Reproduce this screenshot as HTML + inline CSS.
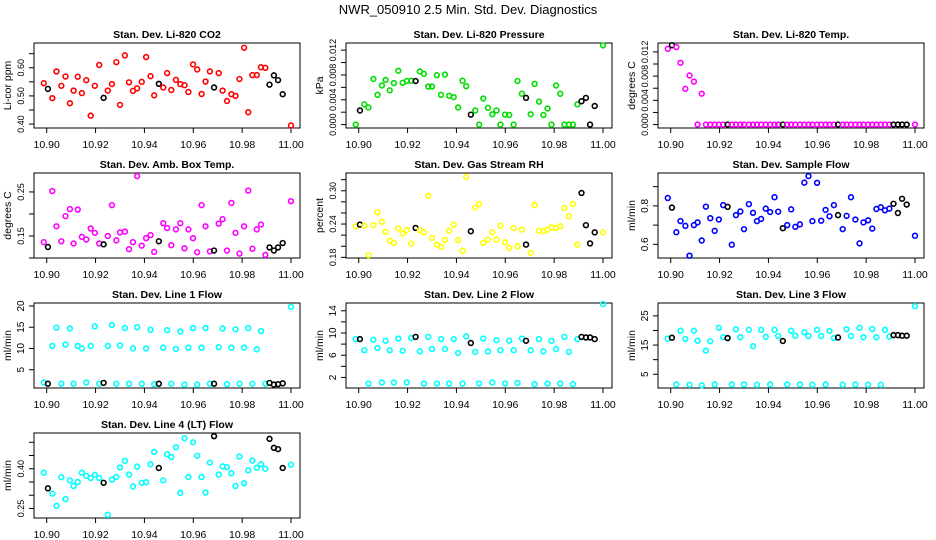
<!DOCTYPE html>
<html><head><meta charset="utf-8"><title>NWR_050910 Diagnostics</title>
<style>
html,body{margin:0;padding:0;background:#fff;}
svg{display:block;font-family:"Liberation Sans",Arial,sans-serif;}
</style></head>
<body>
<svg id="chart" width="936" height="540" viewBox="0 0 936 540" xmlns="http://www.w3.org/2000/svg">
<text x="468" y="14" text-anchor="middle" font-size="13">NWR_050910  2.5 Min. Std. Dev. Diagnostics</text>
</svg>
<script>
// shared time axis (decimal time)
var times = [10.8988,10.9005,10.9023,10.904,10.906,10.9077,10.9095,10.911,10.9127,10.9144,10.9162,10.918,10.9197,10.9215,10.9233,10.925,10.9267,10.9285,10.93,10.932,10.9337,10.9353,10.937,10.9389,10.9407,10.9425,10.944,10.9459,10.9477,10.9493,10.951,10.9529,10.9547,10.9564,10.958,10.9599,10.9616,10.9634,10.965,10.9668,10.9685,10.9704,10.972,10.9738,10.9756,10.9773,10.9789,10.9808,10.9825,10.9842,10.986,10.9877,10.9895,10.9912,10.993,10.9947,10.9966,11.0];
var blackIdx = [1,14,27,40,53,54,55,56];
var xTicks = [10.90,10.92,10.94,10.96,10.98,11.00];
var xTickLabels = ["10.90","10.92","10.94","10.96","10.98","11.00"];

var co2Values = [0.545,0.525,0.492,0.587,0.536,0.569,0.474,0.519,0.568,0.51,0.556,0.43,0.536,0.61,0.493,0.519,0.542,0.62,0.468,0.644,0.548,0.518,0.527,0.55,0.638,0.57,0.502,0.543,0.53,0.581,0.521,0.557,0.542,0.538,0.514,0.612,0.594,0.507,0.551,0.587,0.53,0.581,0.519,0.482,0.506,0.5,0.56,0.671,0.442,0.574,0.574,0.602,0.6,0.54,0.573,0.556,0.506,0.395];
var pressureValues = [0,0.00227,0.00326,0.00276,0.00735,0.0048,0.0063,0.0072,0.00552,0.00669,0.00867,0.00674,0.00702,0.00707,0.00702,0.00856,0.00818,0.00613,0.00613,0.00796,0.0048,0.00807,0.00464,0.00442,0.00276,0.00707,0.00619,0.0016,0.00227,0,0.0042,0.0027,0.00166,0.00227,0,0.0016,0.00155,0,0.00702,0.00497,0.00431,0.00166,0.00657,0.0037,0.00155,0.0026,0,0.0063,0.00497,0,0,0,0.00326,0.00376,0.0043,0,0.003,0.01276];
var tempValues = [0.0125,0.0131,0.0128,0.0102,0.0059,0.0081,0.0071,0,0.0051,0,0,0,0,0,0,0,0,0,0,0,0,0,0,0,0,0,0,0,0,0,0,0,0,0,0,0,0,0,0,0,0,0,0,0,0,0,0,0,0,0,0,0,0,0,0,0,0,0];
var ambValues = [0.136,0.125,0.252,0.172,0.138,0.195,0.211,0.133,0.21,0.148,0.142,0.167,0.157,0.133,0.131,0.15,0.22,0.14,0.158,0.16,0.12,0.136,0.286,0.128,0.145,0.152,0.114,0.138,0.179,0.168,0.129,0.165,0.179,0.122,0.165,0.145,0.113,0.22,0.172,0.115,0.117,0.178,0.188,0.117,0.225,0.157,0.11,0.172,0.253,0.121,0.165,0.176,0.107,0.124,0.117,0.124,0.134,0.229];
var rhValues = [0.236,0.239,0.237,0.184,0.238,0.261,0.244,0.226,0.21,0.206,0.232,0.223,0.229,0.205,0.233,0.229,0.225,0.291,0.215,0.203,0.199,0.211,0.228,0.239,0.211,0.192,0.325,0.227,0.27,0.276,0.206,0.212,0.225,0.212,0.237,0.207,0.197,0.233,0.2,0.23,0.203,0.188,0.274,0.228,0.227,0.23,0.234,0.233,0.236,0.269,0.254,0.276,0.203,0.296,0.238,0.205,0.225,0.225];
var sampleValues = [0.841,0.791,0.663,0.721,0.696,0.541,0.7,0.714,0.62,0.796,0.736,0.67,0.729,0.804,0.795,0.598,0.752,0.771,0.679,0.809,0.764,0.721,0.732,0.786,0.768,0.845,0.77,0.684,0.7,0.782,0.691,0.704,0.921,0.955,0.721,0.92,0.723,0.779,0.746,0.804,0.752,0.679,0.748,0.845,0.729,0.605,0.714,0.725,0.682,0.784,0.793,0.777,0.786,0.811,0.763,0.837,0.807,0.645];
var line1Values = [2.0,1.7,10.6,14.9,1.7,10.9,14.7,1.7,10.6,10.0,2.0,10.6,15.2,1.7,1.9,10.6,15.5,1.7,10.7,14.8,1.7,10.0,15.0,1.7,10.0,14.4,1.6,1.7,10.2,14.3,1.7,9.9,14.0,1.5,10.2,14.8,1.5,10.2,14.8,1.7,1.7,10.3,14.7,1.6,10.2,14.5,1.7,10.2,14.8,1.7,9.8,14.1,1.7,1.9,1.5,1.6,1.8,19.8];
var line2Values = [8.9,8.9,6.9,0.9,8.8,7.3,1.1,8.6,6.9,1.1,9.0,6.8,1.1,9.1,9.3,6.7,0.9,9.3,7.1,0.9,8.9,7.1,0.9,8.9,6.4,0.9,9.4,8.2,6.6,0.9,9.0,6.7,1.1,8.7,6.9,0.9,8.6,6.9,1.0,9.0,8.6,6.9,0.8,8.9,6.7,0.9,8.6,7.1,0.9,9.3,6.6,0.8,8.9,9.3,9.2,9.2,8.9,15.2];
var line3Values = [17.2,17.5,1.5,19.9,17.1,1.4,19.9,16.5,1.2,13.1,16.3,1.5,20.9,17.7,17.4,1.5,20.4,17.7,1.5,20.2,14.6,1.4,20.2,17.8,1.5,20.2,18.1,16.4,1.5,19.9,18.2,1.5,19.4,18.1,1.4,20.2,18.1,1.5,19.8,17.4,17.6,1.4,20.4,18.1,1.5,20.9,17.7,1.4,20.5,17.7,1.4,20.2,17.9,18.4,18.4,18.2,18.2,28.3];
var line4Values = [0.385,0.326,0.306,0.26,0.368,0.285,0.356,0.335,0.35,0.385,0.373,0.365,0.377,0.365,0.347,0.226,0.359,0.369,0.405,0.43,0.378,0.333,0.408,0.347,0.349,0.417,0.464,0.403,0.356,0.455,0.444,0.481,0.309,0.515,0.369,0.5,0.449,0.369,0.31,0.423,0.523,0.378,0.409,0.406,0.383,0.335,0.446,0.345,0.394,0.431,0.404,0.417,0.4,0.513,0.479,0.474,0.403,0.415];

var co2Ticks=[0.40,0.45,0.50,0.55,0.60,0.65], co2Labels=["0.40","","0.50","","0.60",""];
var presTicks=[0,0.002,0.004,0.006,0.008,0.010,0.012], presLabels=["0.000","","0.004","","0.008","","0.012"];
var ambTicks=[0.10,0.15,0.20,0.25], ambLabels=["","0.15","","0.25"];
var rhTicks=[0.18,0.20,0.22,0.24,0.26,0.28,0.30,0.32], rhLabels=["0.18","","","0.24","","","0.30",""];
var sampleTicks=[0.6,0.7,0.8,0.9], sampleLabels=["0.6","","0.8",""];
var l1Ticks=[5,10,15,20], l1Labels=["5","10","15","20"];
var l2Ticks=[2,4,6,8,10,12,14], l2Labels=["2","","6","","10","","14"];
var l3Ticks=[5,10,15,20,25], l3Labels=["5","","15","","25"];
var l4Ticks=[0.25,0.30,0.35,0.40,0.45,0.50], l4Labels=["0.25","","","0.40","",""];

var panels = [
 {id:"co2",title:"Stan. Dev. Li-820 CO2",ylab:"Li-cor ppm",col:0,row:0,vals:co2Values,dom:[0.386,0.688],ticks:co2Ticks,labels:co2Labels,color:"#ff0000"},
 {id:"pressure",title:"Stan. Dev. Li-820 Pressure",ylab:"kPa",col:1,row:0,vals:pressureValues,dom:[-0.00055,0.01315],ticks:presTicks,labels:presLabels,color:"#00dd00"},
 {id:"temp",title:"Stan. Dev. Li-820 Temp.",ylab:"degrees C",col:2,row:0,vals:tempValues,dom:[-0.00057,0.01347],ticks:presTicks,labels:presLabels,color:"#ff00ff"},
 {id:"amb-box-temp",title:"Stan. Dev. Amb. Box Temp.",ylab:"degrees C",col:0,row:1,vals:ambValues,dom:[0.10,0.293],ticks:ambTicks,labels:ambLabels,color:"#ff00ff"},
 {id:"gas-rh",title:"Stan. Dev. Gas Stream RH",ylab:"percent",col:1,row:1,vals:rhValues,dom:[0.1788,0.332],ticks:rhTicks,labels:rhLabels,color:"#ffff00"},
 {id:"sample-flow",title:"Stan. Dev. Sample Flow",ylab:"ml/min",col:2,row:1,vals:sampleValues,dom:[0.529,0.971],ticks:sampleTicks,labels:sampleLabels,color:"#0000ff"},
 {id:"line1-flow",title:"Stan. Dev. Line 1 Flow",ylab:"ml/min",col:0,row:2,vals:line1Values,dom:[0.7,20.7],ticks:l1Ticks,labels:l1Labels,color:"#00ffff"},
 {id:"line2-flow",title:"Stan. Dev. Line 2 Flow",ylab:"ml/min",col:1,row:2,vals:line2Values,dom:[0.1,15.4],ticks:l2Ticks,labels:l2Labels,color:"#00ffff"},
 {id:"line3-flow",title:"Stan. Dev. Line 3 Flow",ylab:"ml/min",col:2,row:2,vals:line3Values,dom:[0.3,29.4],ticks:l3Ticks,labels:l3Labels,color:"#00ffff"},
 {id:"line4-flow",title:"Stan. Dev. Line 4 (LT) Flow",ylab:"ml/min",col:0,row:3,vals:line4Values,dom:[0.214,0.535],ticks:l4Ticks,labels:l4Labels,color:"#00ffff"}
];

var NS="http://www.w3.org/2000/svg";
var svg=document.getElementById("chart");
function mk(tag,parent){var e=document.createElementNS(NS,tag);parent.appendChild(e);return e;}

panels.forEach(function(p){
  var left=34+312*p.col, right=300+312*p.col, top=43+130*p.row, bottom=128+130*p.row;
  function xs(t){return 46.7+312*p.col+(t-10.90)*2443;}
  function ys(v){return bottom-(v-p.dom[0])/(p.dom[1]-p.dom[0])*(bottom-top);}
  var g=mk("g",svg);
  
  
  var box=mk("rect",g);
  
  
  box.setAttribute("x",left);box.setAttribute("y",top);box.setAttribute("width",right-left);box.setAttribute("height",bottom-top);
  box.setAttribute("fill","none");box.setAttribute("stroke","#000");box.setAttribute("stroke-width","1");
  var ti=mk("text",g);
  
  
  ti.setAttribute("x",(left+right)/2);ti.setAttribute("y",top-5);ti.setAttribute("text-anchor","middle");
  ti.setAttribute("font-size","10.5");ti.setAttribute("font-weight","bold");ti.textContent=p.title;
  var yl=mk("text",g);
  
  
  var ylx=left-23, yly=(top+bottom)/2;
  yl.setAttribute("x",ylx);yl.setAttribute("y",yly);yl.setAttribute("text-anchor","middle");
  yl.setAttribute("font-size","10.5");yl.setAttribute("transform","rotate(-90 "+ylx+" "+yly+")");yl.textContent=p.ylab;
  xTicks.forEach(function(t,i){
    var x=xs(t);
    var tk=mk("line",g);
    
    
    tk.setAttribute("x1",x);tk.setAttribute("x2",x);tk.setAttribute("y1",bottom);tk.setAttribute("y2",bottom+5);tk.setAttribute("stroke","#000");
    var lb=mk("text",g);
    
    
    lb.setAttribute("x",x);lb.setAttribute("y",bottom+20);lb.setAttribute("text-anchor","middle");lb.setAttribute("font-size","10.5");
    lb.textContent=xTickLabels[i];
  });
  p.ticks.forEach(function(v,i){
    var y=ys(v);
    var tk=mk("line",g);
    
    
    tk.setAttribute("x1",left-5);tk.setAttribute("x2",left);tk.setAttribute("y1",y);tk.setAttribute("y2",y);tk.setAttribute("stroke","#000");
    if(p.labels[i]){
      var lb=mk("text",g);
      
      
      var lx=left-10;
      var fs=p.labels[i].length>=4?"9":"10";
      lb.setAttribute("x",lx);lb.setAttribute("y",y);lb.setAttribute("text-anchor","middle");lb.setAttribute("font-size",fs);
      lb.setAttribute("transform","rotate(-90 "+lx+" "+y+")");lb.textContent=p.labels[i];
    }
  });
  p.vals.forEach(function(v,i){
    var c=mk("circle",g);
    
    
    c.setAttribute("cx",xs(times[i]));c.setAttribute("cy",ys(v));c.setAttribute("r","2.4");
    c.setAttribute("fill","none");c.setAttribute("stroke-width","1.6");
    c.setAttribute("stroke",blackIdx.indexOf(i)>=0?"#000":p.color);
  });
});
</script>
</body></html>
